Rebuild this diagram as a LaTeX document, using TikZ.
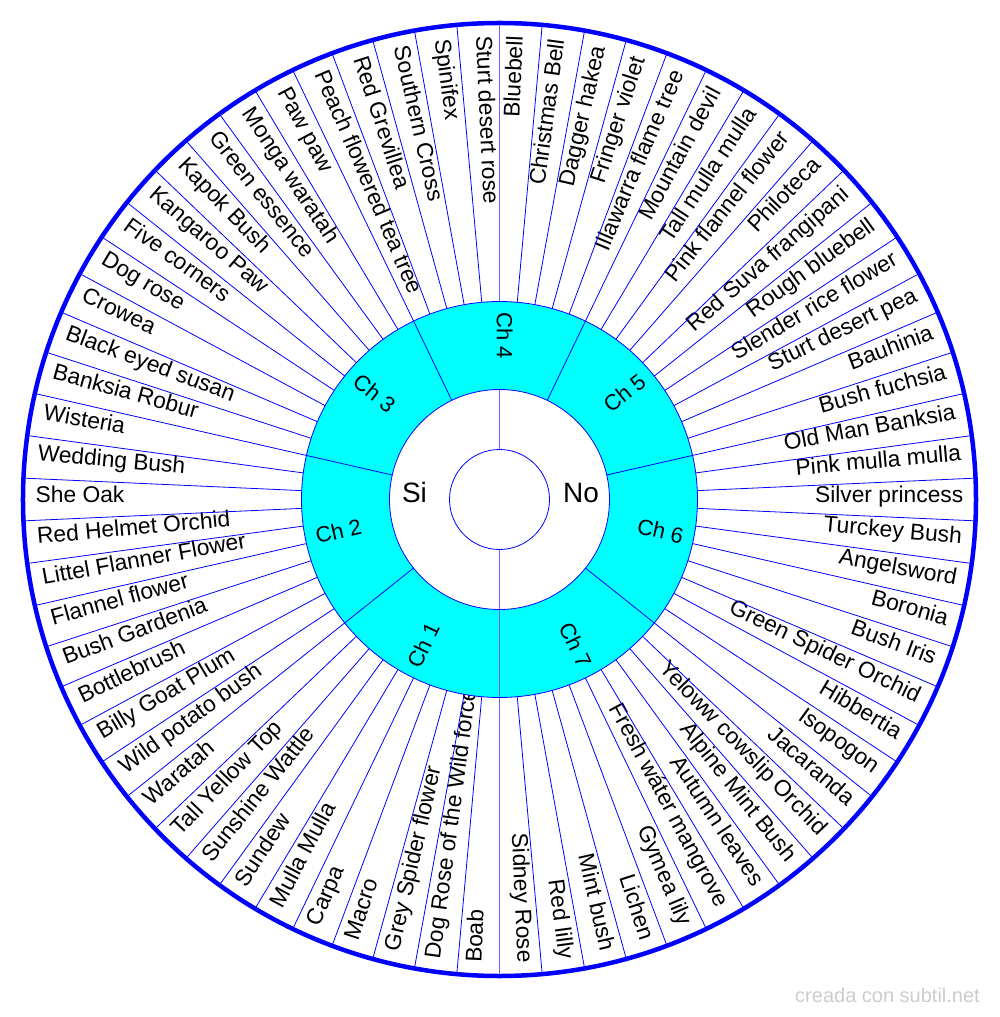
\documentclass[tikz,border=0pt]{standalone}
\usepackage{fontspec}
\setmainfont{Liberation Sans}
\usepackage{tikz}
\definecolor{aqua}{RGB}{0,255,255}

\begin{document}
\begin{tikzpicture}
	\tikzstyle{spoke} = [draw=blue, line width=0.8pt]
	\tikzstyle{axis} = [draw=blue!60, line width=1.2pt]
	\tikzstyle{ring} = [draw=blue, line width=0.8pt]
	\tikzstyle{rim} = [draw=blue, line width=4.5pt]
	\tikzstyle{plant} = [inner sep=0, font=\fontsize{22.8pt}{26pt}\selectfont]
	\tikzstyle{chapter} = [inner sep=0, anchor=mid, font=\fontsize{22pt}{26pt}\selectfont]
	\tikzstyle{answer} = [inner sep=0, anchor=mid, font=\fontsize{28pt}{32pt}\selectfont]
	\tikzstyle{credit} = [inner sep=0, anchor=base east, text=black!20, font=\fontsize{20pt}{24pt}\selectfont]
	\useasboundingbox (-499.5pt,-517.5pt) rectangle (500.5pt,499.5pt);
	\foreach \plant [count=\i] in {Bluebell, Christmas Bell, Dagger hakea, Fringer violet, Illawarra flame tree, Mountain devil, Tall mulla mulla, Pink flannel flower, Philoteca, Red Suva frangipani, Rough bluebell, Slender rice flower, Sturt desert pea, Bauhinia, Bush fuchsia, Old Man Banksia, Pink mulla mulla, Silver princess, Turckey Bush, Angelsword, Boronia, Bush Iris, Green Spider Orchid, Hibbertia, Isopogon, Jacaranda, Yeloww cowslip Orchid, Alpine Mint Bush, Autumn leaves, Fresh wáter mangrove, Gymea lily, Lichen, Mint bush, Red lilly, Sidney Rose, Boab, Dog Rose of the Wild force, Grey Spider flower, Macro, Carpa, Mulla Mulla, Sundew, Sunshine Wattle, Tall Yellow Top, Waratah, Wild potato bush, Billy Goat Plum, Bottlebrush, Bush Gardenia, Flannel flower, Littel Flanner Flower, Red Helmet Orchid, She Oak, Wedding Bush, Wisteria, Banksia Robur, Black eyed susan, Crowea, Dog rose, Five corners, Kangaroo Paw, Kapok Bush, Green essence, Monga waratah, Paw paw, Peach flowered tea tree, Red Grevillea, Southern Cross, Spinifex, Sturt desert rose} {
		\pgfmathsetmacro\ang{90-(\i-0.5)*36/7}
		\ifnum\i<36
			\node[plant, anchor=mid east, rotate=\ang] (p\i) at (\ang:464pt) {\plant};
		\else
			\pgfmathsetmacro\rot{\ang+180}
			\node[plant, anchor=mid west, rotate=\rot] (p\i) at (\ang:464pt) {\plant};
		\fi
	}
	\foreach \i in {1,...,34}
		\draw[spoke] (90-\i*36/7:198pt) -- (90-\i*36/7:477pt);
	\foreach \i in {36,...,69}
		\draw[spoke] (90-\i*36/7:198pt) -- (90-\i*36/7:477pt);
	\draw[axis] (90:198pt) -- (90:477pt);
	\draw[axis] (-90:198pt) -- (-90:477pt);
	\fill[aqua] (0,0) circle (198pt);
	\fill[white] (0,0) circle (110pt);
	\foreach \k in {1,...,6}
		\draw[spoke] (-90-\k*360/7:110pt) -- (-90-\k*360/7:198pt);
	\draw[axis] (-90:110pt) -- (-90:198pt);
	\draw[axis] (90:50pt) -- (90:110pt);
	\draw[axis] (-90:50pt) -- (-90:110pt);
	\draw[ring] (0,0) circle (50pt);
	\draw[ring] (0,0) circle (110pt);
	\draw[ring] (0,0) circle (198pt);
	\draw[rim] (0,0) circle (476.5pt);
	\foreach \k in {1,...,7} {
		\pgfmathsetmacro\ang{-90-(\k-0.5)*360/7}
		\pgfmathsetmacro\rot{\k<5 ? \ang+180 : \ang}
		\node[chapter, rotate=\rot] (ch\k) at (\ang:164pt) {Ch \k};
	}
	\node[answer] (si) at (-85pt,0) {Si};
	\node[answer] (no) at (81.5pt,0) {No};
	\node[credit] (credit) at (480.5pt,-503pt) {creada con subtil.net};
\end{tikzpicture}
\end{document}
